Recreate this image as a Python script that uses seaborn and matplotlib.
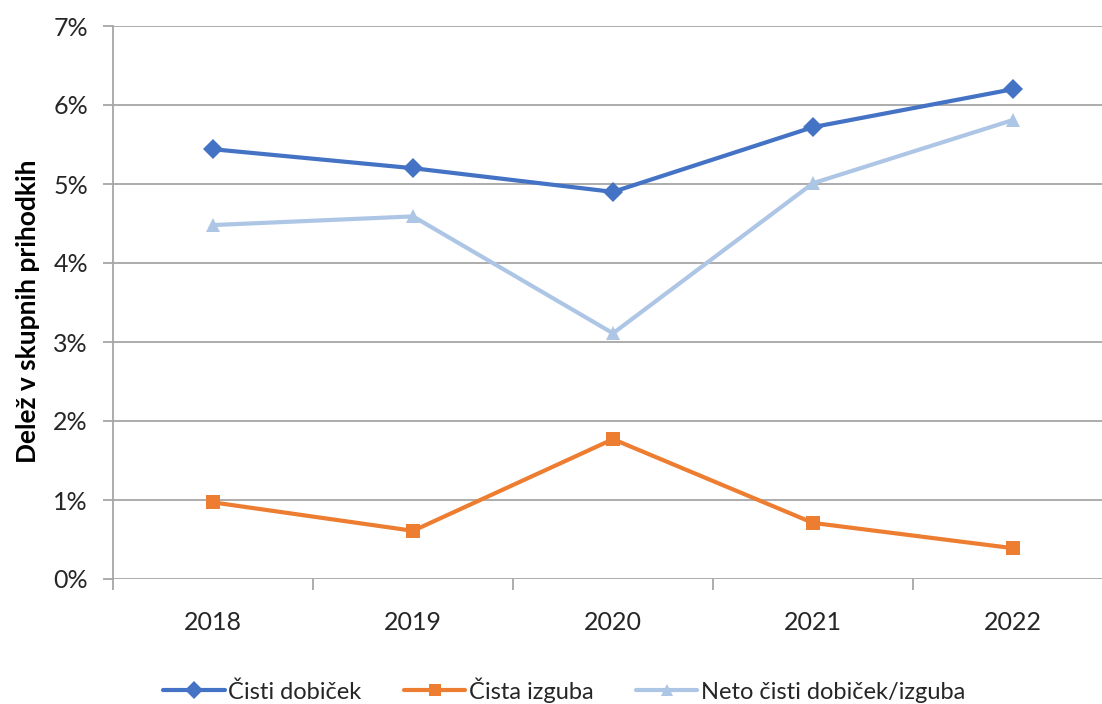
import matplotlib
matplotlib.use("Agg")
import matplotlib.pyplot as plt
import seaborn as sns
import pandas as pd
from matplotlib.ticker import FixedLocator, FuncFormatter
from matplotlib.lines import Line2D

years = ["2018", "2019", "2020", "2021", "2022"]
cisti_dobicek = [5.44, 5.20, 4.90, 5.72, 6.20]
cista_izguba = [0.97, 0.61, 1.77, 0.71, 0.39]
neto = [4.48, 4.59, 3.11, 5.01, 5.81]
series_names = ["Čisti dobiček", "Čista izguba", "Neto čisti dobiček/izguba"]
colors = ["#4472C4", "#ED7D31", "#ADC6E5"]
markers = ["D", "s", "^"]
ylabel = "Delež v skupnih prihodkih"

rows = []
for name, vals in zip(series_names, [cisti_dobicek, cista_izguba, neto]):
    for i, (y, v) in enumerate(zip(years, vals)):
        rows.append({"idx": i, "year": y, "value": v, "series": name})
df = pd.DataFrame(rows)

sns.set_theme(style="white")
plt.rcParams["font.family"] = ["Lato", "DejaVu Sans"]

fig = plt.figure(figsize=(11.02, 7.04), dpi=100)
ax = fig.add_axes([113/1102, 125/704, 1000/1102, 553/704])

sns.lineplot(data=df, x="idx", y="value", hue="series", style="series",
             hue_order=series_names, style_order=series_names,
             palette=colors, markers=markers, dashes=False, linewidth=3,
             markersize=10, markeredgewidth=0, ax=ax, legend=False, sort=False)

ax.set_xlim(-0.5, 4.5)
ax.set_ylim(0, 7)
ax.set_xticks(range(len(years)))
ax.set_xticklabels(years)
ax.xaxis.set_minor_locator(FixedLocator([-0.5, 0.5, 1.5, 2.5, 3.5, 4.5]))
ax.tick_params(axis="x", which="major", length=0, pad=23, labelsize=18, labelcolor="#262626")
ax.tick_params(axis="x", which="minor", length=8, width=1.3, color="#A6A6A6", bottom=True)
ax.set_yticks(range(0, 8))
ax.yaxis.set_major_formatter(FuncFormatter(lambda v, p: f"{int(v)}%"))
ax.tick_params(axis="y", length=7, width=1.3, color="#A6A6A6", pad=11, labelsize=18,
               labelcolor="#262626", left=True)
ax.grid(axis="y", color="#A6A6A6", linewidth=1.3)
ax.grid(axis="x", visible=False)
for s in ["top", "right", "bottom"]:
    ax.spines[s].set_visible(False)
ax.spines["left"].set_color("#A6A6A6")
ax.spines["left"].set_linewidth(1.3)
ax.set_xlabel("")
ax.set_ylabel(ylabel, fontsize=19, fontweight="bold", color="#000000")
ax.yaxis.set_label_coords(-0.073, 0.485)

handles = [Line2D([], [], color=c, marker=m, linewidth=3, markersize=9, markeredgewidth=0)
           for c, m in zip(colors, markers)]
fig.legend(handles, series_names, loc="center", bbox_to_anchor=(0.512, 0.02),
           ncol=3, frameon=False, fontsize=17, handlelength=2.6, handletextpad=0.15,
           columnspacing=1.8, labelcolor="#262626")

fig.savefig("out.png", dpi=100)
